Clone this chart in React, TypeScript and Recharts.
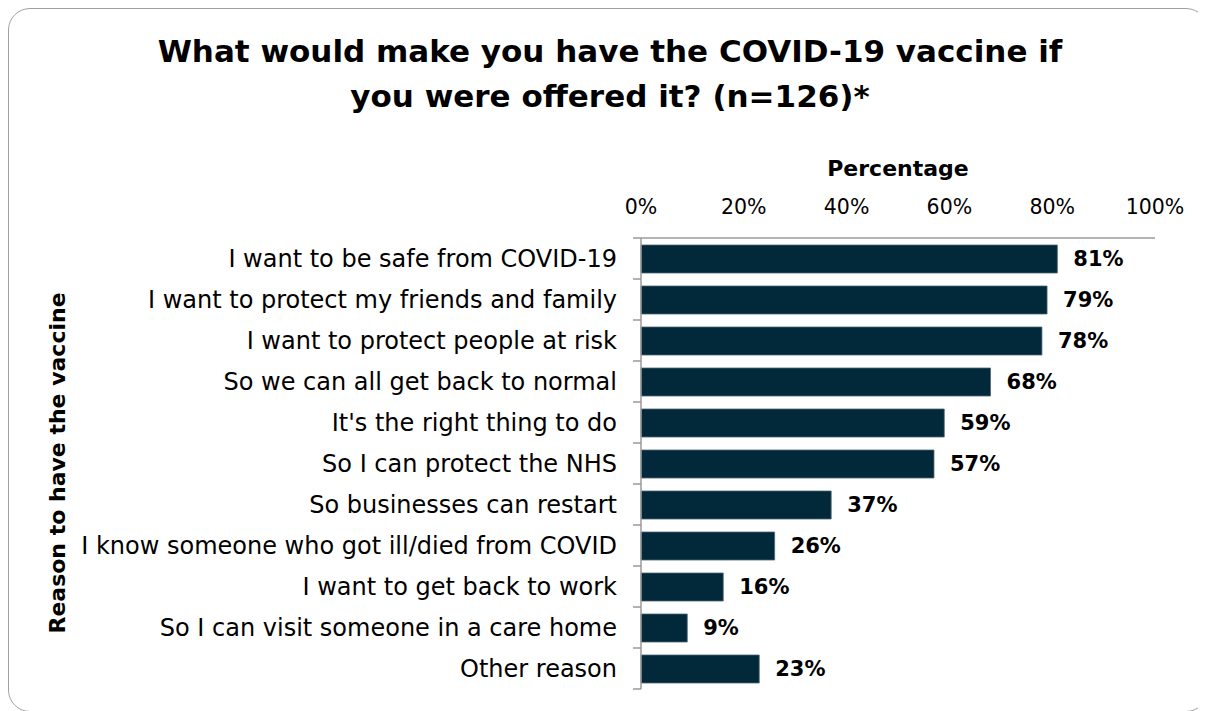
import React from 'react';
import { BarChart, Bar, XAxis, YAxis, LabelList } from 'recharts';

const categories = [
  'I want to be safe from COVID-19',
  'I want to protect my friends and family',
  'I want to protect people at risk',
  'So we can all get back to normal',
  "It's the right thing to do",
  'So I can protect the NHS',
  'So businesses can restart',
  'I know someone who got ill/died from COVID',
  'I want to get back to work',
  'So I can visit someone in a care home',
  'Other reason',
];
const values = [81, 79, 78, 68, 59, 57, 37, 26, 16, 9, 23];
const xTicks = [0, 20, 40, 60, 80, 100];
const titleLines = ['What would make you have the COVID-19 vaccine if', 'you were offered it? (n=126)*'];
const xLabel = 'Percentage';
const yLabel = 'Reason to have the vaccine';

const data = categories.map((name, i) => ({ name, value: values[i] }));

const FONT = '"DejaVu Sans", sans-serif';
const CHART_W = 1190;
const CHART_H = 694;
const MARGIN = { top: 149, right: 44, bottom: 14, left: 0 };
const X_AXIS_H = 80;
const Y_AXIS_W = 632;
const PLOT_H = CHART_H - MARGIN.top - X_AXIS_H - MARGIN.bottom;
const BAND = PLOT_H / categories.length;
const AXIS_COLOR = '#9a9a9a';

const YTick = (props: any) => {
  const { x, y, payload, index } = props;
  const ax = x + 24;
  return (
    <g>
      <text x={x} y={y} dy="0.36em" textAnchor="end" fontFamily={FONT} fontSize={24} fill="#000">
        {payload.value}
      </text>
      <line x1={ax - 8} x2={ax} y1={y + BAND / 2} y2={y + BAND / 2} stroke={AXIS_COLOR} strokeWidth={1.5} />
      {index === 0 && (
        <line x1={ax - 8} x2={ax} y1={y - BAND / 2} y2={y - BAND / 2} stroke={AXIS_COLOR} strokeWidth={1.5} />
      )}
    </g>
  );
};

export default function App() {
  return (
    <div
      style={{
        position: 'relative',
        width: 1200,
        height: 704,
        border: '1px solid #a0a0a0',
        borderRadius: 22,
        boxSizing: 'border-box',
        background: '#fff',
      }}
    >
      <div
        style={{
          position: 'absolute',
          left: 101,
          top: 20,
          width: 1000,
          textAlign: 'center',
          fontFamily: FONT,
          fontWeight: 'bold',
          fontSize: 31,
          lineHeight: '45px',
          color: '#000',
          whiteSpace: 'nowrap',
        }}
      >
        {titleLines[0]}
        <br />
        {titleLines[1]}
      </div>
      <div style={{ position: 'absolute', left: 0, top: 0 }}>
        <BarChart width={CHART_W} height={CHART_H} data={data} layout="vertical" margin={MARGIN}>
          <XAxis
            type="number"
            orientation="top"
            domain={[0, 100]}
            ticks={xTicks}
            tickFormatter={(v: number) => `${v}%`}
            height={X_AXIS_H}
            axisLine={{ stroke: AXIS_COLOR, strokeWidth: 1.5 }}
            tickLine={false}
            tickSize={0}
            tickMargin={24}
            tick={{ fontFamily: FONT, fontSize: 20.5, fill: '#000' }}
            interval={0}
            label={{
              content: (p: any) => {
                const vb = p.viewBox;
                return (
                  <text
                    x={vb.x + vb.width / 2}
                    y={vb.y + 18}
                    textAnchor="middle"
                    fontFamily={FONT}
                    fontWeight="bold"
                    fontSize={22}
                    fill="#000"
                  >
                    {xLabel}
                  </text>
                );
              },
            }}
          />
          <YAxis
            type="category"
            dataKey="name"
            width={Y_AXIS_W}
            axisLine={{ stroke: AXIS_COLOR, strokeWidth: 1.5 }}
            tickLine={false}
            tickSize={0}
            tickMargin={24}
            tick={<YTick />}
            interval={0}
            label={{
              content: () => (
                <text
                  x={56}
                  y={454}
                  transform="rotate(-90, 56, 454)"
                  textAnchor="middle"
                  fontFamily={FONT}
                  fontWeight="bold"
                  fontSize={22}
                  fill="#000"
                >
                  {yLabel}
                </text>
              ),
            }}
          />
          <Bar dataKey="value" fill="#02293a" stroke="#4d6573" strokeWidth={0.8} barSize={28} isAnimationActive={false}>
            <LabelList
              dataKey="value"
              position="right"
              offset={16}
              formatter={(v: any) => `${v}%`}
              style={{ fontFamily: FONT, fontWeight: 'bold', fontSize: 21, fill: '#000' }}
            />
          </Bar>
        </BarChart>
      </div>
    </div>
  );
}
